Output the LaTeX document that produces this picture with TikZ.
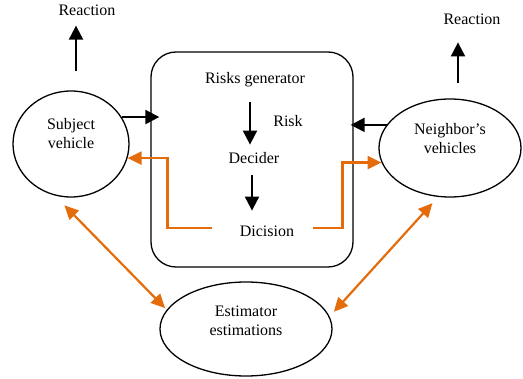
\documentclass[tikz,border=0pt]{standalone}
\usepackage{fontspec}
\setmainfont{Liberation Serif}
\usepackage{xcolor}
\usetikzlibrary{shapes,arrows,positioning,calc,arrows.meta}
\definecolor{estorange}{RGB}{228,108,10}

\begin{document}
\begin{tikzpicture}[x=1pt, y=-1pt, thick, font=\fontsize{16}{19}\selectfont]
    % Styles
    \tikzstyle{vehicle} = [draw, ellipse, line width=1.3pt, inner sep=0pt]
    \tikzstyle{txt} = [inner sep=0pt, text height=11pt, text depth=3.5pt]
    \tikzstyle{inside} = [inner sep=0pt, align=center]
    \tikzstyle{arr} = [line width=2pt, -{Triangle[length=14pt, width=14pt]}]
    \tikzstyle{oarr} = [draw=estorange, line width=2.2pt, -{Triangle[length=14pt, width=13pt]}]
    \tikzstyle{oboth} = [draw=estorange, line width=2.2pt, {Triangle[length=14pt, width=13pt]}-{Triangle[length=14pt, width=13pt]}]

    \useasboundingbox (0,0) rectangle (523,379);

    % Vehicles and estimator
    \node [vehicle, minimum width=116, minimum height=106,
           label={[inside, yshift=10pt]center:Subject\\vehicle}] (Subj) at (71,144) {};
    \node [vehicle, minimum width=142, minimum height=98,
           label={[inside, yshift=9pt]center:Neighbor’s\\vehicles}] (Nbr) at (450,148) {};
    \node [vehicle, minimum width=172, minimum height=94,
           label={[inside, yshift=8pt]center:Estimator\\estimations}] (Est) at (246,329) {};

    % Risk box
    \node [draw, line width=1.3pt, rounded corners=25pt, minimum width=202, minimum height=215] (Box) at (252,159.5) {};
    \node [txt] (Rgen) at (255,80) {Risks generator};
    \node [txt] (Risk) at (288,123) {Risk};
    \node [txt] (Dec) at (254,160) {Decider};
    \node [txt] (Dic) at (267,233) {Dicision};

    % Reactions
    \node [txt] (ReacL) at (87,12) {Reaction};
    \node [txt] (ReacR) at (472,21) {Reaction};

    % Edges
    % Inside the box
    \draw[arr] ([xshift=-5pt, yshift=-14.75pt]Rgen.south) -- ([xshift=-4pt, yshift=7.75pt]Dec.north);
    \draw[arr] ([xshift=-2pt, yshift=-7.75pt]Dec.south) -- ([xshift=-15pt, yshift=14.75pt]Dic.north);

    % Vehicles - Box
    \draw[arr, shorten >=-9pt] (Subj.28) -- (Subj.28 -| Box.west);
    \draw[arr, shorten >=-3pt] (Nbr.160) -- (Nbr.160 -| Box.east);

    % Reactions
    \draw[arr] ([xshift=5pt, yshift=19pt]Subj.north) -- ([xshift=-11pt, yshift=-6pt]ReacL.south);
    \draw[arr] ([xshift=8pt, yshift=15pt]Nbr.north) -- ([xshift=-14pt, yshift=-13.75pt]ReacR.south);

    % Decision back to vehicles
    \draw[oarr] ([xshift=-27pt, yshift=5pt]Dic.west) -| ([xshift=40pt]Subj.-14) -- (Subj.-14);
    \draw[oarr] ([xshift=18pt, yshift=5pt]Dic.east) -| ([xshift=-39pt]Nbr.192) -- (Nbr.192);

    % Estimator - vehicles
    \draw[oboth] ([yshift=-8pt]Subj.-97) -- ([xshift=-3pt]Est.165);
    \draw[oboth] ([yshift=-7pt]Nbr.-110) -- ([xshift=7pt]Est.12);

\end{tikzpicture}
\end{document}
